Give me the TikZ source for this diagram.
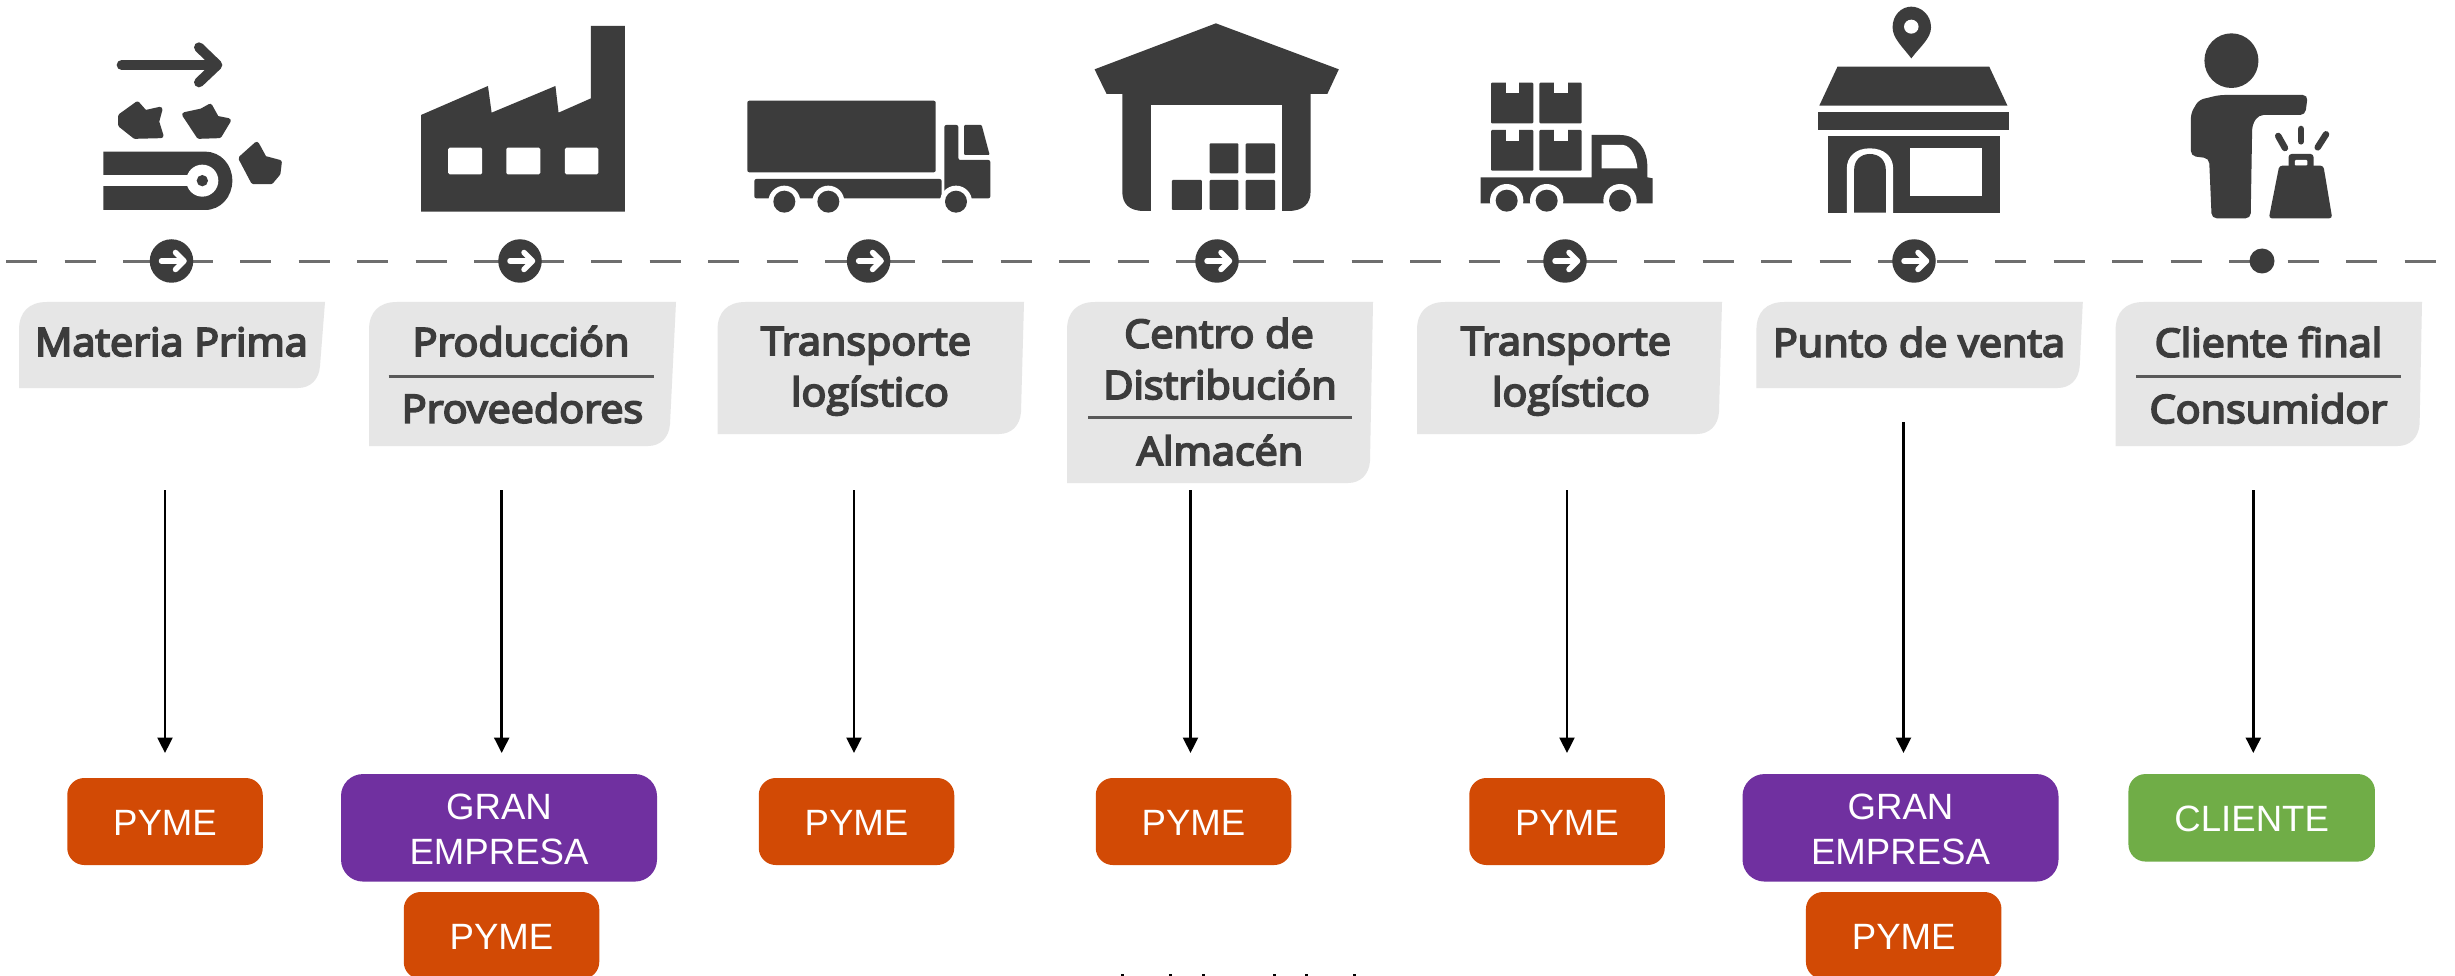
\documentclass[tikz,border=0pt]{standalone}
\usepackage{fontspec}
\setmainfont{Liberation Sans}
\newfontfamily\labfont[FakeStretch=1.06]{Open Sans}
\usetikzlibrary{arrows.meta}
\definecolor{ink}{HTML}{3C3C3C}
\definecolor{stagegray}{HTML}{E6E6E6}
\definecolor{dashgray}{HTML}{6E6E6E}
\definecolor{pymeorange}{HTML}{D24A05}
\definecolor{granpurple}{HTML}{7030A0}
\definecolor{clientgreen}{HTML}{70AD47}
\newcommand{\stagebox}[5]{% left, top, right at top, right at bottom, bottom
  \fill[stagegray] (#1,#2+28) .. controls (#1,#2+10) and (#1+10,#2) .. (#1+28,#2) -- (#3,#2)
    -- (#4,#5-22) .. controls (#4-1,#5-8) and (#4-10,#5) .. (#4-22,#5) -- (#1,#5) -- cycle;}
\newcommand{\lowtext}[1]{\raisebox{-1.5pt}[\height][\depth]{#1}}
\newcommand{\twolines}{\raisebox{-5.5pt}[\height][\depth]{\begin{tabular}{@{}c@{}}GRAN\\EMPRESA\end{tabular}}}
\newcommand{\semi}[1]{\special{pdf:code 2 Tr 1.9 w}#1\special{pdf:code 0 Tr 1 w}}
\tikzset{
  x=1pt,y=-1pt,
  stagetext/.style={anchor=base,inner sep=0pt,text=ink,font=\labfont\fontsize{39}{39}\selectfont},
  flowline/.style={draw=black,line width=2.5pt,-{Triangle[width=15pt,length=15.5pt]}},
  orgbox/.style={rounded corners=17pt,text=white,inner sep=0pt,align=center,font=\fontsize{36.6}{45}\selectfont},
  pymebox/.style={orgbox,fill=pymeorange,minimum width=195.5pt,minimum height=87pt},
  granbox/.style={orgbox,fill=granpurple,minimum width=316pt,minimum height=107.5pt,rounded corners=22pt},
  clientbox/.style={orgbox,fill=clientgreen,minimum width=246.5pt,minimum height=87.5pt},
  flowdot/.style={circle,fill=ink,inner sep=0pt,minimum size=43.5pt},
  enddot/.style={circle,fill=ink,inner sep=0pt,minimum size=25pt},
  stagerule/.style={draw=ink!85,line width=2.6pt},
  icon/.style={fill=ink,draw=none},
  blob/.style={fill=ink,draw=ink,line width=5pt,line join=round},
  gap/.style={fill=white,draw=none},
}
\begin{document}
\begin{tikzpicture}
\clip (0,0) rectangle (2455,976);
\fill[white] (0,0) rectangle (2455,976);

% ---- dashed timeline
\coordinate (ds) at (6,261.5);
\coordinate (de) at (2435.5,261.5);
\draw[dashgray,line width=3pt,dash pattern=on 31pt off 27.5pt] (ds) -- (de);
\foreach \n/\x in {c1/171.5,c2/520,c3/868.6,c4/1217,c5/1565,c6/1914}{
  \node[flowdot] (\n) at (\x,261) {};
  \draw[white,line width=5.5pt,line cap=round] ([xshift=-10pt]\n.center) -- ([xshift=11pt]\n.center);
  \draw[white,line width=5.5pt,line cap=round,line join=round] ([xshift=4pt,yshift=8.5pt]\n.center) -- ([xshift=12.5pt]\n.center) -- ([xshift=4pt,yshift=-8.5pt]\n.center);
}
\node[enddot] (c7) at (2262,261) {};

% ---- stage plates
\stagebox{19}{302}{325}{320}{388}
\stagebox{369}{302}{676}{670}{446}
\stagebox{717.5}{302}{1024}{1021}{434}
\stagebox{1067}{302}{1373}{1370}{483}
\stagebox{1417}{302}{1722}{1719}{434}
\stagebox{1756.4}{302}{2082.8}{2079.7}{388}
\stagebox{2115.6}{302}{2422}{2419.6}{446}

\node[stagetext] (s1) at (171.5,356) {\semi{Materia Prima}};
\node[stagetext] (s2a) at (521,356) {\semi{Producción}};
\node[stagetext] (s2b) at (522.5,422.7) {\semi{Proveedores}};
\node[stagetext] (s3a) at (866,355) {\semi{Transporte}};
\node[stagetext] (s3b) at (870,406) {\semi{logístico}};
\node[stagetext] (s4a) at (1219,347.7) {\semi{Centro de}};
\node[stagetext] (s4b) at (1220,399) {\semi{Distribución}};
\node[stagetext] (s4c) at (1220,465) {\semi{Almacén}};
\node[stagetext] (s5a) at (1566,355) {\semi{Transporte}};
\node[stagetext] (s5b) at (1571,406) {\semi{logístico}};
\node[stagetext] (s6) at (1919,356.7) {\semi{Punto de venta}};
\node[stagetext] (s7a) at (2268.4,356.7) {\semi{Cliente final}};
\node[stagetext] (s7b) at (2268.4,423) {\semi{Consumidor}};
\coordinate (r2a) at (388.6,376.7); \coordinate (r2b) at (654.3,376.7);
\coordinate (r4a) at (1088,417.7);  \coordinate (r4b) at (1352,417.7);
\coordinate (r7a) at (2136.4,376.7); \coordinate (r7b) at (2401.4,376.7);
\draw[stagerule] (r2a) -- (r2b);
\draw[stagerule] (r4a) -- (r4b);
\draw[stagerule] (r7a) -- (r7b);

% ---- icon: raw material
\begin{scope}[shift={(80,40)},scale=1/3]
  \draw[ink,line width=10pt,line cap=round] (125,75) -- (405,75);
  \draw[ink,line width=10pt,line cap=round,line join=round] (357,22) -- (412,75) -- (357,127);
  \filldraw[blob] (122,228) -- (172,192) -- (195,218) -- (240,208) -- (230,245) -- (243,287) -- (165,289) -- (122,255) -- cycle;
  \filldraw[blob] (314,224) -- (365,213) -- (390,199) -- (410,235) -- (445,242) -- (418,287) -- (357,289) -- cycle;
  \filldraw[blob] (483,355) -- (530,313) -- (553,355) -- (598,367) -- (594,400) -- (573,425) -- (520,425) -- cycle;
  \fill[icon] (70,335) -- (375,335) .. controls (423,335) and (457,374) .. (457,422) .. controls (457,470) and (423,510) .. (375,510) -- (70,510) -- cycle;
  \fill[gap] (60,405) rectangle (340,438);
  \fill[gap] (367,422) circle[radius=48];
  \fill[icon] (367,422) circle[radius=17];
\end{scope}

% ---- icon: factory
\begin{scope}[xscale=1/1.912,yscale=1/3]
  \fill[icon] (805,345) -- (933,258) -- (940,338) -- (1062,258) -- (1068,338) -- (1130,295) -- (1130,78) -- (1195,78) -- (1195,635) -- (805,635) -- cycle;
  \fill[gap,rounded corners=1.5pt] (857,443) rectangle (922,523);
  \fill[gap,rounded corners=1.5pt] (968,443) rectangle (1033,523);
  \fill[gap,rounded corners=1.5pt] (1080,443) rectangle (1144,523);
\end{scope}

% ---- icon: lorry
\begin{scope}[shift={(730,80)},scale=1/3]
  \fill[icon,rounded corners=2pt] (52,62) rectangle (617,277);
  \fill[icon,rounded corners=2pt] (73,297) rectangle (635,355);
  \fill[icon,rounded corners=2pt] (643,135) -- (685,135) -- (685,240) -- (781,240) -- (781,355) -- (643,355) -- cycle;
  \fill[icon,rounded corners=1pt] (702,135) -- (755,135) -- (779,225) -- (702,225) -- cycle;
  \foreach \wx in {163,295,678}{\fill[gap] (\wx,365) circle[radius=48];}
  \fill[gap] (100,357) rectangle (720,420);
  \foreach \wx in {163,295,678}{\fill[icon] (\wx,365) circle[radius=33];}
\end{scope}

% ---- icon: warehouse
\begin{scope}[shift={(820,0)},xscale=1/1.912,yscale=1/3]
  \fill[icon] (757,70) -- (992,208) -- (970,282) -- (548,282) -- (525,208) -- cycle;
  \fill[icon] (578,282) -- (938,282) -- (938,575) .. controls (938,610) and (925,633) .. (895,633) -- (620,633) .. controls (590,633) and (578,610) .. (578,575) -- cycle;
  \fill[gap] (633,315) rectangle (884,640);
  \fill[icon,rounded corners=1pt] (745,430) rectangle (800,520);
  \fill[icon,rounded corners=1pt] (814,430) rectangle (870,520);
  \fill[icon,rounded corners=1pt] (673,540) rectangle (730,630);
  \fill[icon,rounded corners=1pt] (745,540) rectangle (800,630);
  \fill[icon,rounded corners=1pt] (814,540) rectangle (870,630);
\end{scope}

% ---- icon: delivery truck
\begin{scope}[shift={(1460,70)},scale=1/3]
  \foreach \bx/\by in {93/38,238/38,93/180,238/180}{
    \fill[icon,rounded corners=1pt] (\bx,\by) rectangle (\bx+127,\by+122);
    \fill[gap] (\bx+45,\by-2) rectangle (\bx+85,\by+32);
  }
  \fill[icon] (395,322) -- (395,195) -- (480,195) .. controls (530,195) and (562,235) .. (562,290) -- (562,322) -- (578,325) -- (578,400) -- (62,400) -- (62,322) -- cycle;
  \fill[gap] (425,225) -- (490,225) .. controls (515,228) and (530,265) .. (532,295) -- (425,295) -- cycle;
  \foreach \wx in {140,260,480}{\fill[gap] (\wx,392) circle[radius=50];}
  \fill[gap] (85,402) rectangle (540,450);
  \foreach \wx in {140,260,480}{\fill[icon] (\wx,392) circle[radius=33];}
\end{scope}

% ---- icon: shop with pin
\begin{scope}[shift={(1640,0)},xscale=1/1.924,yscale=1/3]
  \fill[icon] (522,175) .. controls (505,140) and (486,115) .. (486,82) .. controls (486,45) and (503,20) .. (522,20) .. controls (541,20) and (560,45) .. (560,82) .. controls (560,115) and (539,140) .. (522,175) -- cycle;
  \fill[gap] (522,80) ellipse[x radius=14,y radius=21];
  \fill[icon] (380,200) -- (672,200) -- (707,317) -- (345,317) -- cycle;
  \fill[icon] (342,337) rectangle (710,390);
  \fill[icon] (362,408) rectangle (692,638);
  \fill[gap] (398,645) -- (398,505) .. controls (398,470) and (415,445) .. (442,445) .. controls (470,445) and (487,470) .. (487,505) -- (487,645) -- cycle;
  \fill[icon] (412,638) -- (412,510) .. controls (412,480) and (425,462) .. (442,462) .. controls (460,462) and (473,480) .. (473,510) -- (473,638) -- cycle;
  \fill[gap] (520,443) rectangle (658,588);
\end{scope}

% ---- icon: customer
\begin{scope}[shift={(1640,0)},xscale=1/1.924,yscale=1/3]
  \fill[icon] (1138,182) ellipse[x radius=52,y radius=82];
  \fill[icon,rounded corners=5pt] (1115,285) -- (1285,285) -- (1280,345) -- (1190,345) -- (1178,375) -- (1175,655) -- (1100,655) -- (1095,475) -- (1060,468) -- (1060,340) -- (1075,300) -- cycle;
  \fill[icon,rounded corners=3pt] (1248,462) rectangle (1296,510);
  \fill[gap,rounded corners=1pt] (1260,480) rectangle (1284,497);
  \fill[icon,rounded corners=3pt] (1230,497) -- (1315,497) -- (1332,655) -- (1210,655) -- cycle;
  \draw[ink,line width=6.5pt,line cap=round] (1228,408) -- (1241,444);
  \draw[ink,line width=6.5pt,line cap=round] (1272,387) -- (1272,424);
  \draw[ink,line width=6.5pt,line cap=round] (1320,403) -- (1304,442);
\end{scope}

% ---- organisation boxes
\node[pymebox] (o1) at (165,821.5) {\lowtext{PYME}};
\node[granbox] (o2) at (499,827.8) {\twolines};
\node[pymebox] (o2b) at (501.5,935.5) {\lowtext{PYME}};
\node[pymebox] (o3) at (856.5,821.5) {\lowtext{PYME}};
\node[pymebox] (o4) at (1193.5,821.5) {\lowtext{PYME}};
\node[pymebox] (o5) at (1567,821.5) {\lowtext{PYME}};
\node[granbox] (o6) at (1900.5,827.8) {\twolines};
\node[pymebox] (o6b) at (1903.7,935.5) {\lowtext{PYME}};
\node[clientbox] (o7) at (2251.7,817.8) {\lowtext{CLIENTE}};

% ---- connectors
\foreach \n/\x/\ys in {1/165/490,2/501.7/490,3/854/490,4/1190.5/490,5/1567/490,6/1903.5/422,7/2253.3/490}{
  \coordinate (a\n s) at (\x,\ys);
  \coordinate (a\n e) at (\x,753);
  \draw[flowline] (a\n s) -- (a\n e);
}

% ---- clipped caption remnants at the lower edge
\foreach \mx in {1122,1170.5,1203,1274,1306,1354}{
  \fill[black] (\mx-1.5,974) rectangle (\mx+1.5,977);
}
\end{tikzpicture}
\end{document}
